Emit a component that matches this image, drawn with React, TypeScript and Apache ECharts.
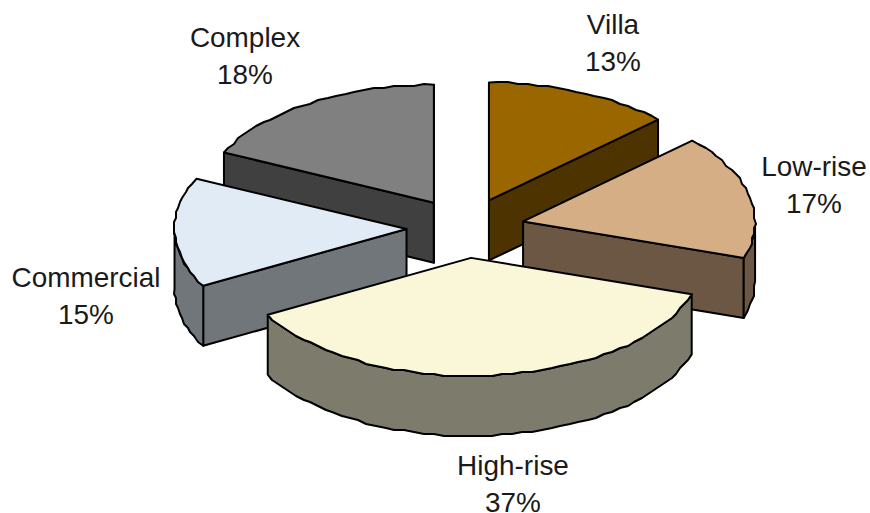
import React, { useEffect, useRef } from "react";
import * as echarts from "echarts";

// Housing stock by building type, in percent, clockwise from 12 o'clock.
const categories = ["Villa", "Low-rise", "High-rise", "Commercial", "Complex"];
const shares = [13, 17, 37, 15, 18];
const topColors = ["#996600", "#D5AE85", "#FAF6D8", "#E0EBF5", "#808080"];
const wallColors = ["#4D3300", "#6B5743", "#7D7B6C", "#70767A", "#404040"];

// Slices are painted back to front so nearer walls cover farther ones.
const paintOrder = [4, 0, 1, 3, 2];

// Centre of each two-line label.
const labelCentres = [
  [613, 43],
  [814, 185],
  [513, 484],
  [86, 296],
  [245, 56],
];

const CX = 465.5;
const CY = 228;
const RX = 232;
const RY = 118;
const EXPLODE_X = 59;
const EXPLODE_Y = 30;
const DEPTH = 60;
const ARC_STEP = (2.5 * Math.PI) / 180;
const GRID = 2;
const LINE_GAP = 37;

const snap = (v: number) => Math.round(v / GRID) * GRID;

const total = shares.reduce((a, b) => a + b, 0);
const startAngles = shares.map(
  (_, i) => (shares.slice(0, i).reduce((a, b) => a + b, 0) / total) * Math.PI * 2
);

// Rim points between two angles; angle 0 points up and grows clockwise.
function arcPoints(ox: number, oy: number, a0: number, a1: number) {
  const n = Math.max(1, Math.ceil((a1 - a0) / ARC_STEP));
  const pts: number[][] = [];
  for (let k = 0; k <= n; k++) {
    const t = a0 + ((a1 - a0) * k) / n;
    const edge = k === 0 || k === n;
    const x = ox + RX * Math.sin(t);
    const y = oy - RY * Math.cos(t);
    pts.push(edge ? [x, y] : [snap(x), snap(y)]);
  }
  return pts;
}

function labelLine(text: string, x: number, y: number) {
  return {
    type: "text",
    x,
    y,
    scaleX: 1.035,
    style: {
      text,
      align: "center",
      verticalAlign: "middle",
      fontFamily: "Liberation Sans",
      fontSize: 27,
      lineHeight: 20,
      fill: "#1a1a1a",
    },
  };
}

function renderSlice(_: unknown, api: any) {
  const i = api.value(0) as number;
  const share = api.value(1) as number;
  const a0 = startAngles[i];
  const a1 = a0 + (share / total) * Math.PI * 2;
  const mid = (a0 + a1) / 2;
  const ox = CX + EXPLODE_X * Math.sin(mid);
  const oy = CY - EXPLODE_Y * Math.cos(mid);
  const top = { stroke: "#000", lineWidth: 2, lineJoin: "round" };
  const wallStyle = { ...top, fill: wallColors[i] };
  const rim = (a: number) => [ox + RX * Math.sin(a), oy - RY * Math.cos(a)];
  const cut = (a: number) => {
    const [x, y] = rim(a);
    return {
      type: "polygon",
      shape: { points: [[ox, oy], [x, y], [x, y + DEPTH], [ox, oy + DEPTH]] },
      style: wallStyle,
    };
  };

  // Radial cut faces: a face shows when it turns toward the viewer.
  const children: any[] = [];
  if (Math.sin(a0) < -1e-6) children.push(cut(a0));
  if (Math.sin(a1) > -1e-6) children.push(cut(a1));

  // Outer wall: only the part of the rim that faces the viewer.
  const w0 = Math.max(a0, Math.PI / 2);
  const w1 = Math.min(a1, (Math.PI * 3) / 2);
  if (w1 > w0) {
    const upper = arcPoints(ox, oy, w0, w1);
    const lower = arcPoints(ox, oy + DEPTH, w0, w1).reverse();
    children.push({
      type: "polygon",
      shape: { points: [...upper, ...lower] },
      style: wallStyle,
    });
  }

  children.push({
    type: "polygon",
    shape: { points: [[ox, oy], ...arcPoints(ox, oy, a0, a1)] },
    style: { ...top, fill: topColors[i] },
  });

  const [lx, ly] = labelCentres[i];
  children.push(labelLine(categories[i], lx, ly - LINE_GAP / 2));
  children.push(labelLine(`${share}%`, lx, ly + LINE_GAP / 2));

  return { type: "group", children };
}

export default function App() {
  const ref = useRef<HTMLDivElement>(null);
  useEffect(() => {
    const chart = echarts.init(ref.current!, null, { renderer: "svg" });
    chart.setOption({
      animation: false,
      backgroundColor: "#fff",
      series: [
        {
          type: "custom",
          coordinateSystem: "none",
          renderItem: renderSlice,
          silent: true,
          data: paintOrder.map((i) => ({
            name: categories[i],
            value: [i, shares[i]],
          })),
        },
      ],
    });
    return () => chart.dispose();
  }, []);
  return (
    <div
      ref={ref}
      style={{ position: "absolute", left: 0, top: 0, width: 870, height: 513 }}
    />
  );
}
